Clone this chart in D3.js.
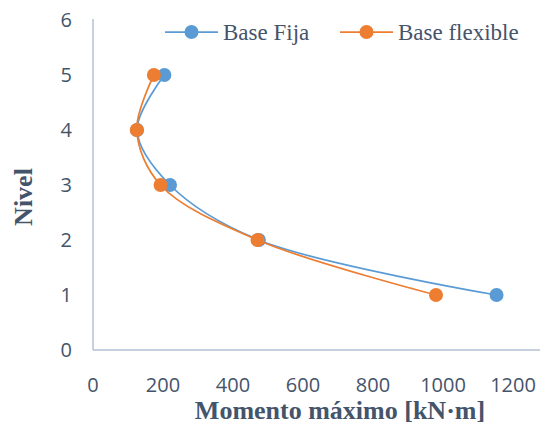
<!DOCTYPE html>
<html>
<head>
<meta charset="utf-8">
<script src="https://cdn.jsdelivr.net/npm/d3@7"></script>
<style>
  body { margin: 0; background: #fff; }
  svg { display: block; }
</style>
</head>
<body>
<svg id="chart" width="540" height="426"></svg>
<script>
// niveles y momentos maximos
var niveles = [1, 2, 3, 4, 5];
var baseFija = [1153, 474, 220, 126, 204];
var baseFlexible = [980, 470, 193, 125, 174];
var xTicks = [0, 200, 400, 600, 800, 1000, 1200];
var yTicks = [0, 1, 2, 3, 4, 5, 6];

var series = [
  { name: 'Base Fija', values: baseFija, color: '#5B9BD5' },
  { name: 'Base flexible', values: baseFlexible, color: '#ED7D31' }
];

var svg = d3.select('#chart'),
    textColor = '#44546A',
    axisColor = '#B4C0D4';

var x = d3.scaleLinear().domain([0, 1200]).range([93, 513]);
var y = d3.scaleLinear().domain([0, 6]).range([350, 20]);

// ejes
svg.append('line')
  .attr('x1', x(0)).attr('x2', 540)
  .attr('y1', y(0)).attr('y2', y(0))
  .attr('stroke', axisColor).attr('stroke-width', 1.5);
svg.append('line')
  .attr('x1', x(0)).attr('x2', x(0))
  .attr('y1', y(0)).attr('y2', y(6) - 1)
  .attr('stroke', axisColor).attr('stroke-width', 1.5);

svg.selectAll('.xt').data(xTicks).enter().append('text')
  .attr('x', function(d) { return x(d); })
  .attr('y', 392)
  .attr('text-anchor', 'middle')
  .attr('font-family', 'Open Sans, sans-serif')
  .attr('font-size', 20)
  .attr('fill', textColor)
  .text(function(d) { return d; });

svg.selectAll('.yt').data(yTicks).enter().append('text')
  .attr('x', 72)
  .attr('y', function(d) { return y(d) + 7; })
  .attr('text-anchor', 'end')
  .attr('font-family', 'Open Sans, sans-serif')
  .attr('font-size', 20)
  .attr('fill', textColor)
  .text(function(d) { return d; });

// titulos
svg.append('text')
  .attr('x', 340).attr('y', 419)
  .attr('text-anchor', 'middle')
  .attr('font-family', 'Liberation Serif, Times New Roman, serif')
  .attr('font-weight', 'bold')
  .attr('font-size', 26)
  .attr('fill', textColor)
  .text('Momento máximo [kN·m]');

svg.append('text')
  .attr('transform', 'translate(32,197) rotate(-90)')
  .attr('text-anchor', 'middle')
  .attr('font-family', 'Liberation Serif, Times New Roman, serif')
  .attr('font-weight', 'bold')
  .attr('font-size', 26)
  .attr('fill', textColor)
  .text('Nivel');

// curvas
var line = d3.line()
  .x(function(d) { return x(d[0]); })
  .y(function(d) { return y(d[1]); })
  .curve(d3.curveCatmullRom.alpha(0.5));

series.forEach(function(s) {
  var pts = s.values.map(function(v, i) { return [v, niveles[i]]; });
  var g = svg.append('g');
  g.append('path')
    .attr('d', line(pts))
    .attr('fill', 'none')
    .attr('stroke', s.color)
    .attr('stroke-width', 1.75);
  g.selectAll('circle').data(pts).enter().append('circle')
    .attr('cx', function(d) { return x(d[0]); })
    .attr('cy', function(d) { return y(d[1]); })
    .attr('r', 7)
    .attr('fill', s.color);
});

// leyenda
var legendX = [165, 340];
series.forEach(function(s, i) {
  var lg = svg.append('g').attr('transform', 'translate(' + legendX[i] + ',32)');
  lg.append('line')
    .attr('x1', 0).attr('x2', 53)
    .attr('stroke', s.color).attr('stroke-width', 1.75);
  lg.append('circle')
    .attr('cx', 26.5).attr('r', 7).attr('fill', s.color);
  lg.append('text')
    .attr('x', 58).attr('y', 8)
    .attr('font-family', 'Liberation Serif, Times New Roman, serif')
    .attr('font-size', 23)
    .attr('fill', textColor)
    .text(s.name);
});
</script>
</body>
</html>
